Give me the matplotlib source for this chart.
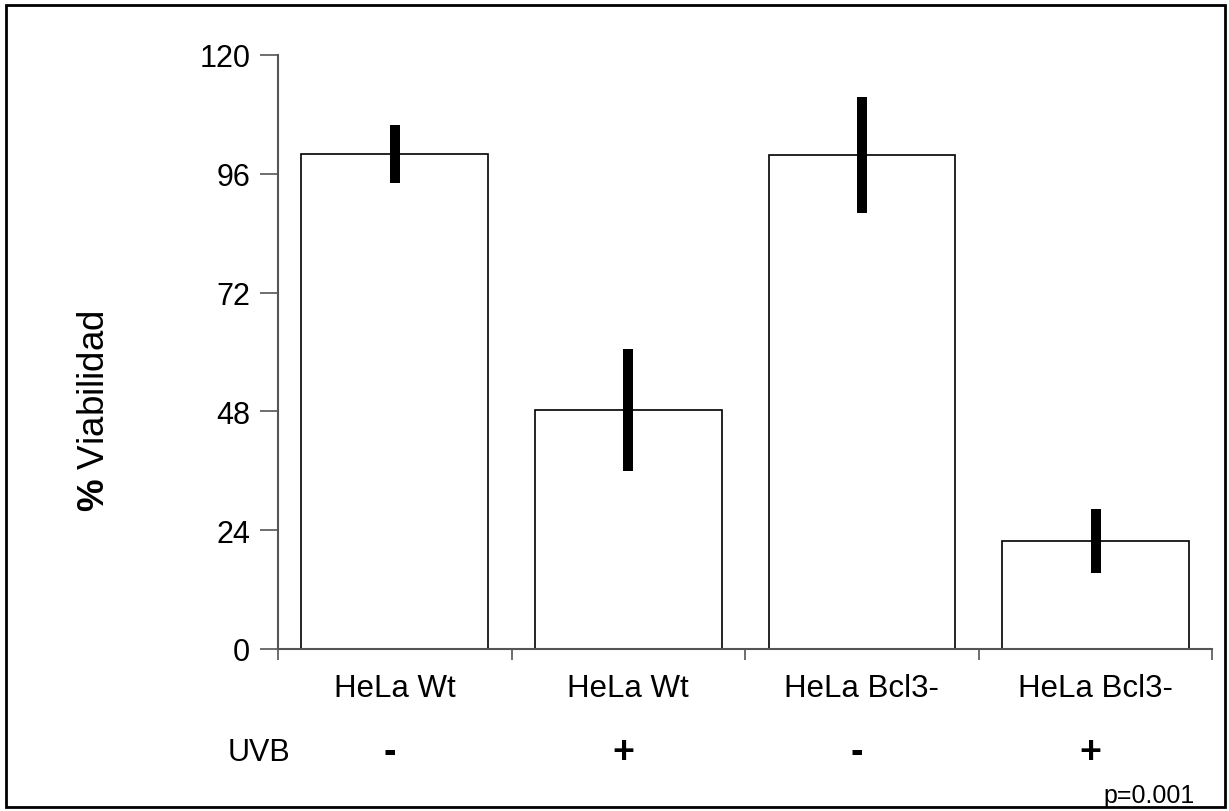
import matplotlib.pyplot as plt
from matplotlib.patches import Rectangle

plt.rcParams['font.family'] = ['Liberation Sans', 'DejaVu Sans']
plt.rcParams['mathtext.fontset'] = 'custom'
plt.rcParams['mathtext.rm'] = 'Liberation Sans'
plt.rcParams['mathtext.bf'] = 'Liberation Sans:bold'

# data
categories = ['HeLa Wt', 'HeLa Wt', 'HeLa Bcl3-', 'HeLa Bcl3-']
uvb = ['-', '+', '-', '+']
viability = [100.0, 48.3, 99.8, 21.8]
errors = [5.9, 12.4, 11.7, 6.4]
yticks = [0, 24, 48, 72, 96, 120]

W, H = 1229, 812
fig = plt.figure(figsize=(W / 100, H / 100), dpi=100)
ax = fig.add_axes([278 / W, 1 - 650 / H, (1212.3 - 278) / W, (650 - 56) / H])

x = range(len(categories))
ax.bar(x, viability, width=0.8, color='white', edgecolor='black', linewidth=1.2)
ax.errorbar(x, viability, yerr=errors, fmt='none', ecolor='black',
            elinewidth=7.2, capsize=0)

ax.set_xlim(-0.5, len(categories) - 0.5)
ax.set_ylim(0, 120)
ax.set_yticks(yticks)
ax.tick_params(axis='y', direction='out', length=13, width=1.2, pad=7,
               labelsize=22, color='#555555')
ax.set_xticks(list(x))
ax.set_xticklabels(categories)
ax.tick_params(axis='x', which='major', length=0, pad=17, labelsize=22.5)
ax.set_xticks([i - 0.5 for i in range(len(categories) + 1)], minor=True)
ax.tick_params(axis='x', which='minor', direction='out', length=8, width=1.2,
               color='#555555')

for s in ['top', 'right']:
    ax.spines[s].set_visible(False)
for s in ['left', 'bottom']:
    ax.spines[s].set_color('#555555')
    ax.spines[s].set_linewidth(1.5)

fig.text(94 / W, 1 - 411 / H, r'$\mathbf{\%}$ Viabilidad', rotation=90,
         ha='center', va='center', fontsize=26.5)

# UVB row
yrow = 1 - 753 / H
fig.text(259 / W, yrow, 'UVB', ha='center', va='center', fontsize=22)
for i, s in enumerate(uvb):
    xd = ax.transData.transform((i, 0))[0]
    fig.text(xd / W - 0.004, yrow, s, ha='center', va='center',
             fontsize=27, fontweight='bold')

fig.text(1149 / W, 1 - 796 / H, 'p=0.001', ha='center', va='center', fontsize=18)

fig.patches.append(Rectangle((6 / W, 1 - 808 / H), (1225 - 6) / W, (808 - 6) / H,
                             transform=fig.transFigure, fill=False,
                             edgecolor='black', linewidth=2))

fig.savefig('out.png', dpi=100, facecolor='white')
